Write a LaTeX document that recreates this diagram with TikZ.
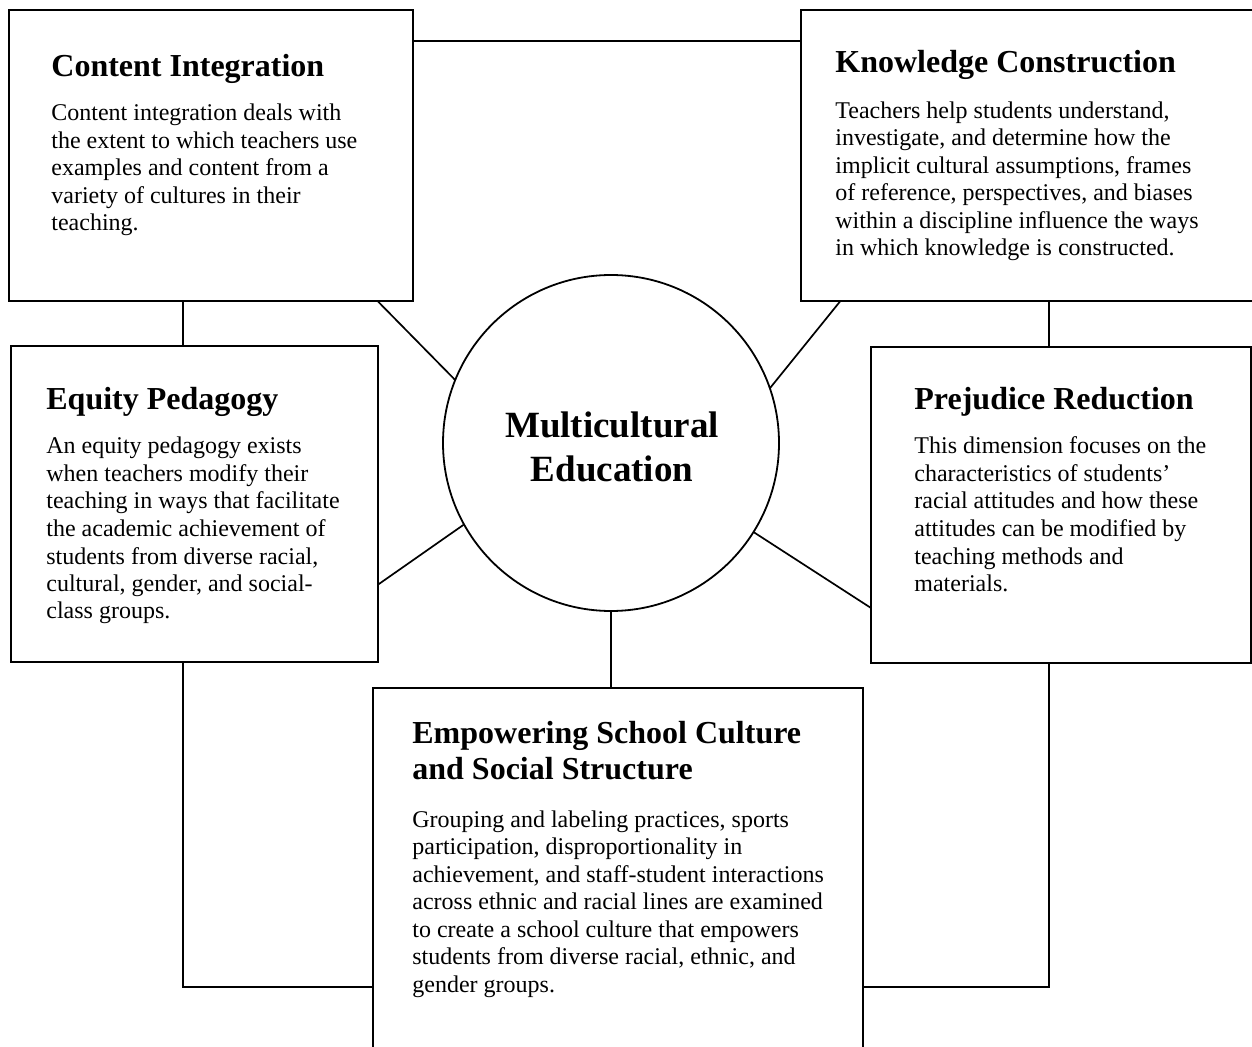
\documentclass[tikz,border=0pt]{standalone}
\usepackage{fontspec}
\setmainfont{Liberation Serif}
\usetikzlibrary{fit}
\newcommand\nsp{\spaceskip=0pt\xspaceskip=0pt\relax}
\begin{document}
\begin{tikzpicture}[x=0.5pt,y=-0.5pt,
  box/.style={draw, line width=1pt, inner sep=0pt, outer sep=0pt},
  hub/.style={draw, circle, line width=0.9pt, inner sep=0pt, outer sep=0pt, minimum size=168pt},
  conn/.style={line width=0.85pt},
  ttl/.style={anchor=base west, inner sep=0pt, text width=260pt, font=\fontsize{16pt}{18pt}\selectfont\bfseries},
  bdy/.style={anchor=base west, inner sep=0pt, text width=260pt, font=\fontsize{12pt}{13.75pt}\selectfont},
  hubtxt/.style={anchor=base, inner sep=0pt, text width=200pt, font=\fontsize{18.5pt}{22pt}\selectfont\bfseries}]
\fill[white] (0,0) rectangle (1252,1047);
\useasboundingbox (0,0) rectangle (1252,1047);
\clip (0,0) rectangle (1252,1047);

% corner coordinates of the boxes
\coordinate (ci1) at (8.5,10.5);   \coordinate (ci2) at (412.5,301.5);
\coordinate (kc1) at (801,10.5);   \coordinate (kc2) at (1262,301.5);
\coordinate (ep1) at (10.5,346.5); \coordinate (ep2) at (377.5,662);
\coordinate (pr1) at (871,347);    \coordinate (pr2) at (1251,662.5);
\coordinate (em1) at (373,688);    \coordinate (em2) at (863,1062);

\node[box, fit=(ci1)(ci2)] (ci) {};
\node[box, fit=(kc1)(kc2)] (kc) {};
\node[box, fit=(ep1)(ep2)] (ep) {};
\node[box, fit=(pr1)(pr2)] (pr) {};
\node[box, fit=(em1)(em2)] (em) {};
\node[hub] (me) at (611,443) {};

% texts
\node[hubtxt] (metxt) at (612,438) {\centering Multicultural\\Education\par};

\node[ttl] (citl) at (51,77) {\nsp Content Integration};
\node[bdy] (cibd) at (51,121) {\nsp Content integration deals with\\the extent to which teachers use\\examples and content from a\\variety of cultures in their\\teaching.};

\node[ttl] (kctl) at (835,73) {\nsp Knowledge Construction};
\node[bdy] (kcbd) at (835,118.5) {\nsp Teachers help students understand,\\investigate, and determine how the\\implicit cultural assumptions, frames\\of reference, perspectives, and biases\\within a discipline influence the ways\\in which knowledge is constructed.};

\node[ttl] (eptl) at (46,409.5) {\nsp Equity Pedagogy};
\node[bdy] (epbd) at (46,454) {\nsp An equity pedagogy exists\\when teachers modify their\\teaching in ways that facilitate\\the academic achievement of\\students from diverse racial,\\cultural, gender, and social-\\class groups.};

\node[ttl] (prtl) at (914,410) {\nsp Prejudice Reduction};
\node[bdy] (prbd) at (914,454) {\nsp This dimension focuses on the\\characteristics of students’\\racial attitudes and how these\\attitudes can be modified by\\teaching methods and\\materials.};

\node[ttl] (emtl) at (412,743) {\nsp Empowering School Culture\\and Social Structure};
\node[bdy] (embd) at (412,827) {\nsp Grouping and labeling practices, sports\\participation, disproportionality in\\achievement, and staff-student interactions\\across ethnic and racial lines are examined\\to create a school culture that empowers\\students from diverse racial, ethnic, and\\gender groups.};

% helper coordinates for connectors
\coordinate (toprow) at (0,41);
\coordinate (lx) at (183,0);
\coordinate (rx) at (1049,0);
\coordinate (boty) at (0,987);
\coordinate (cid) at (378,0);
\coordinate (kcd) at (840,0);
\coordinate (epd) at (0,585);
\coordinate (prd) at (0,608);

% connectors
\draw[conn] (ci.east |- toprow) -- (kc.west |- toprow);
\draw[conn] (ci.south -| lx) -- (ep.north -| lx);
\draw[conn] (kc.south -| rx) -- (pr.north -| rx);
\draw[conn] (ci.south -| cid) -- (me.158.6);
\draw[conn] (kc.south -| kcd) -- (me.19.1);
\draw[conn] (ep.east |- epd) -- (me.209.6);
\draw[conn] (pr.west |- prd) -- (me.328.3);
\draw[conn] (me.south) -- (me.south |- em.north);
\draw[conn] (ep.south -| lx) |- (em.west |- boty);
\draw[conn] (pr.south -| rx) |- (em.east |- boty);
\end{tikzpicture}
\end{document}
